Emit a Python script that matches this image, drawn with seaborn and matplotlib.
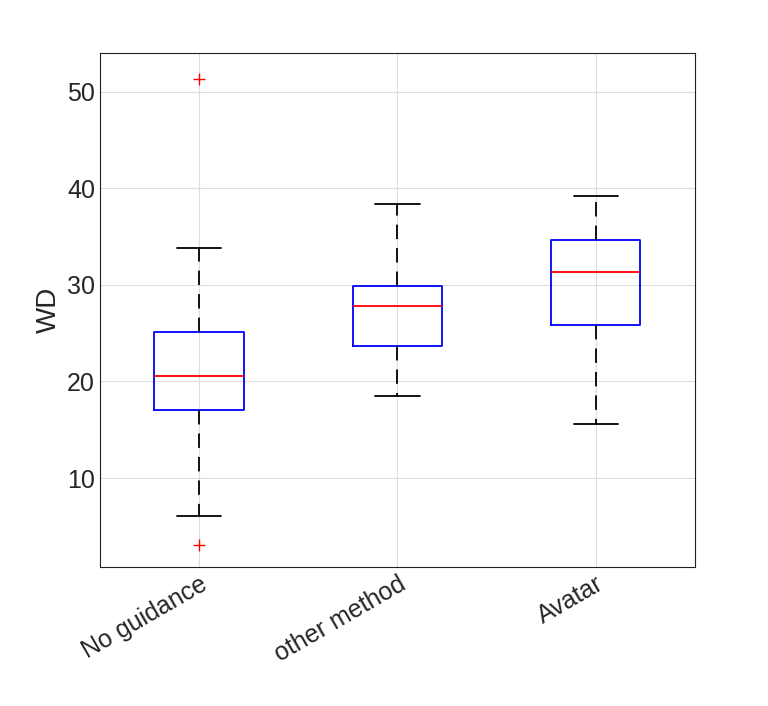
import matplotlib
matplotlib.use("Agg")
import matplotlib.pyplot as plt
import seaborn as sns
import pandas as pd

# Sample values chosen so the quartiles, whiskers and outliers match the chart
groups = ["No guidance", "other method", "Avatar"]
no_guidance = [3.1, 6.1, 17.0, 17.0, 20.6, 25.1, 25.1, 33.8, 51.3]
other_method = [18.5, 23.7, 27.8, 29.9, 38.4]
avatar = [15.6, 25.8, 31.3, 34.6, 39.2]

rows = []
for name, vals in zip(groups, [no_guidance, other_method, avatar]):
    for v in vals:
        rows.append({"group": name, "WD": v})
df = pd.DataFrame(rows)

sns.set_theme(style="whitegrid")
plt.rcParams['font.family'] = ['Liberation Sans', 'DejaVu Sans']

fig = plt.figure(figsize=(7.68, 7.06), dpi=100)
ax = fig.add_axes([0.13, 0.197, 0.775, 0.728])

sns.boxplot(data=df, x="group", y="WD", order=groups, ax=ax, width=0.45,
            fill=False, whis=1.5,
            boxprops=dict(color="blue", linewidth=1.3),
            medianprops=dict(color="red", linewidth=1.3),
            whiskerprops=dict(color="black", linestyle=(0, (8, 5)), linewidth=1.3),
            capprops=dict(color="black", linewidth=1.3),
            flierprops=dict(marker="+", markeredgecolor="red", markersize=9, markeredgewidth=1))

ax.set_ylim(0.8, 54)
ax.set_yticks([10, 20, 30, 40, 50])
ax.set_xlabel("")
ax.set_ylabel("WD", fontsize=20)
ax.tick_params(axis="y", labelsize=18, length=0)
ax.tick_params(axis="x", labelsize=18, length=0)
for lab in ax.get_xticklabels():
    lab.set_rotation(30)
    lab.set_ha("right")
    lab.set_rotation_mode("anchor")
ax.grid(True, color="#dddddd", linewidth=0.8)
ax.set_facecolor("white")
for s in ax.spines.values():
    s.set_visible(True)
    s.set_color("#222222")
    s.set_linewidth(0.8)

fig.savefig("out.png", dpi=100, facecolor="white")
